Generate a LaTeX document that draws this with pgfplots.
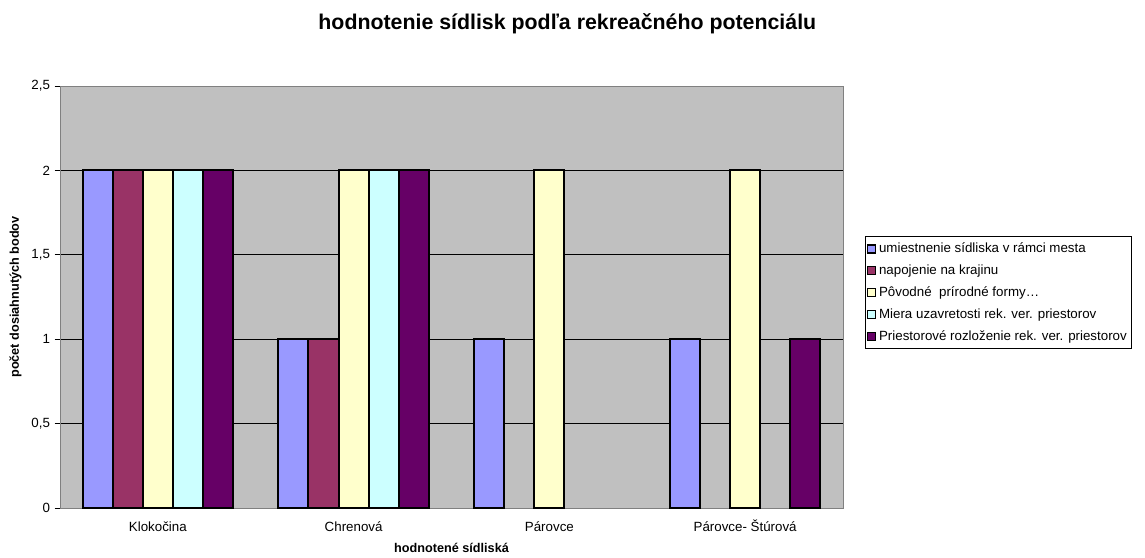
\documentclass[border=0pt]{standalone}
\usepackage{pgfplots}
\pgfplotsset{compat=1.18}
\usepackage{fontspec}
\setmainfont{Liberation Sans}
\definecolor{s1}{HTML}{9999FF}
\definecolor{s2}{HTML}{993366}
\definecolor{s3}{HTML}{FFFFCC}
\definecolor{s4}{HTML}{CCFFFF}
\definecolor{s5}{HTML}{660066}
\definecolor{bg}{HTML}{C0C0C0}
\begin{document}
\begin{tikzpicture}
\path[use as bounding box] (0pt,0pt) rectangle (858.75pt,417.75pt);
\node[font=\fontsize{16}{19}\selectfont\bfseries, anchor=base] at (425.5pt,395.25pt) {hodnotenie sídlisk podľa rekreačného potenciálu};
\begin{axis}[
  at={(45pt,36.75pt)}, anchor=south west,
  width=587.25pt, height=316.5pt, scale only axis,
  ybar=0pt, bar width=0.1538,
  xmin=-0.5, xmax=3.5, ymin=0, ymax=2.5,
  ytick={0,0.5,1,1.5,2,2.5},
  xtick={0,1,2,3},
  xticklabels={Klokočina,Chrenová,Párovce,Párovce- Štúrová},
  extra x ticks={-0.5,0.5,1.5,2.5,3.5},
  extra x tick labels={},
  extra x tick style={major tick length=4pt, tick style={black!60, line width=0.6pt}},
  x tick style={draw=none},
  xtick pos=bottom, ytick pos=left,
  tick align=outside,
  major tick length=4pt,
  y tick style={black, line width=0.6pt},
  ymajorgrids, grid style={black, line width=0.7pt},
  axis background/.style={fill=bg},
  axis line style={draw=black!50, line width=0.7pt},
  /pgf/number format/.cd, use comma, fixed, precision=1, assume math mode=true,
  /pgfplots/.cd,
  ticklabel style={font=\fontsize{10}{12}\selectfont},
  xticklabel style={anchor=base, yshift=-13.5pt},
  xlabel={hodnotené sídliská},
  ylabel={počet dosiahnutých bodov},
  xlabel style={font=\fontsize{9.5}{11}\selectfont\bfseries, at={(axis description cs:0.5,-0.1043)}, anchor=base},
  ylabel style={font=\fontsize{9.5}{11}\selectfont\bfseries, at={(axis description cs:-0.0524,0.5)}, anchor=base},
  legend style={at={(1.0275,0.645)}, anchor=north west, draw=black, line width=0.6pt, fill=white,
    font=\fontsize{10}{12}\selectfont, row sep=3.6pt, inner xsep=1.5pt, inner ysep=3pt,
    cells={anchor=west}},
  legend image code/.code={\draw[#1, line width=1.1pt, draw=black] (0pt,-3pt) rectangle (6pt,3pt);},
  every axis plot/.append style={draw=black, line width=1.5pt},
]
\addplot[fill=s1] coordinates {(0,2) (1,1) (2,1) (3,1)};
\addlegendentry{umiestnenie sídliska v rámci mesta}
\addplot[fill=s2] coordinates {(0,2) (1,1)};
\addlegendentry{napojenie na krajinu}
\addplot[fill=s3] coordinates {(0,2) (1,2) (2,2) (3,2)};
\addlegendentry{Pôvodné\ \ prírodné formy\ldots}
\addplot[fill=s4] coordinates {(0,2) (1,2)};
\addlegendentry{Miera uzavretosti rek. ver. priestorov}
\addplot[fill=s5] coordinates {(0,2) (1,2) (3,1)};
\addlegendentry{Priestorové rozloženie rek. ver. priestorov}
\end{axis}
\end{tikzpicture}
\end{document}
